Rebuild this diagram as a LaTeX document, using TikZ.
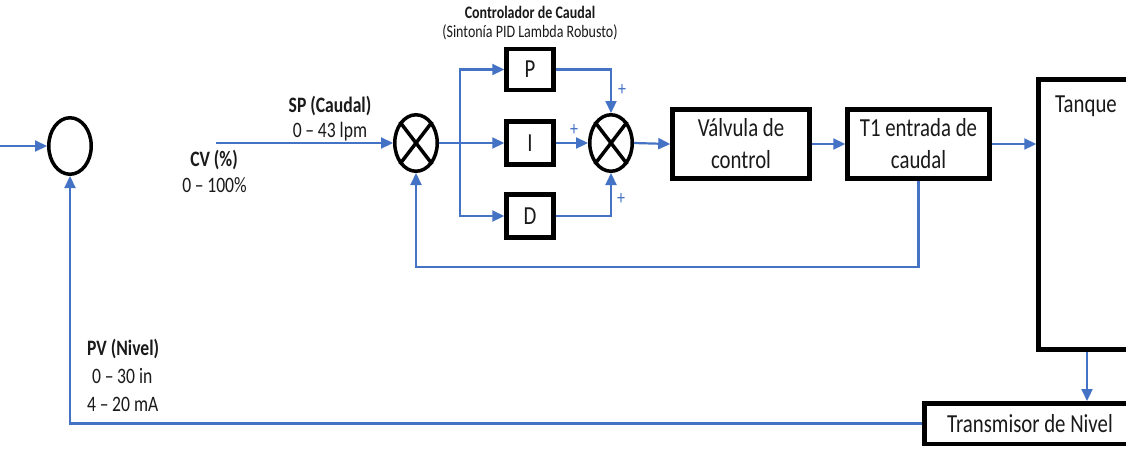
\documentclass[tikz,border=0pt]{standalone}
\usepackage{fontspec}
\setmainfont{Carlito}[FakeStretch=0.8]
\usetikzlibrary{arrows.meta,shapes.geometric,calc}
\definecolor{flow}{HTML}{4472C4}
\definecolor{ink}{HTML}{1A1A1A}
\tikzset{
  blk/.style={draw=black,line width=4.5pt,fill=white,inner sep=0pt,text=ink,
    font=\fontsize{26}{32}\selectfont,align=center},
  sumcirc/.style={draw=black,line width=3.5pt,ellipse,inner sep=0pt,
    minimum width=42.5pt,minimum height=56.5pt},
  flowline/.style={draw=flow,line width=2.2pt},
  arr/.style={flowline,-{Triangle[length=12pt,width=11pt]}},
  lbl/.style={text=ink,font=\fontsize{22}{28}\selectfont,inner sep=0pt},
  ttl/.style={text=ink,font=\fontsize{17.5}{21}\selectfont,inner sep=0pt},
  plus/.style={text=flow,font=\fontsize{20}{20}\selectfont,inner sep=0pt}
}
\begin{document}
\begin{tikzpicture}[x=1pt,y=-1pt]
\clip (0,0) rectangle (1126,448);
\fill[white] (0,0) rectangle (1126,448);

% summing junctions
\node[sumcirc] (s1) at (70,146) {};
\node[sumcirc] (s2) at (416,143) {};
\node[sumcirc] (s3) at (611,143) {};
\draw[line width=3.5pt] (s2.north west) -- (s2.south east) (s2.north east) -- (s2.south west);
\draw[line width=3.5pt] (s3.north west) -- (s3.south east) (s3.north east) -- (s3.south west);

% PID branches
\node[blk,minimum width=47pt,minimum height=41pt] (p) at (530,69.5) {P};
\node[blk,minimum width=47pt,minimum height=43pt] (i) at (530,143) {I};
\node[blk,minimum width=47pt,minimum height=43pt] (d) at (530,216) {D};

% process blocks
\node[blk,minimum width=137pt,minimum height=69pt] (valve) at (741,144) {Válvula de\\control};
\node[blk,minimum width=142pt,minimum height=69pt] (t1) at (918.5,144) {T1 entrada de\\caudal};
\node[draw=black,line width=4.5pt,fill=white,minimum width=203pt,minimum height=270pt,inner sep=0pt]
  (tank) at (1140,214.5) {};
\node[lbl,font=\fontsize{26}{32}\selectfont,anchor=base west] (tanklbl) at (1055,112) {Tanque};
\node[blk,minimum width=211pt,minimum height=40.5pt] (trans) at (1030,423.5) {Transmisor de Nivel};

% free ends
\coordinate (in) at (0,146);
\coordinate (cv) at (216,143);
\coordinate (br) at (460,143);
\coordinate (tx) at (1087,0);
\coordinate (fby) at (0,267);

% signal flow
\draw[arr] (in) -- (s1.west);
\draw[arr] (cv) -- (s2.west);
\draw[flowline] (s2.east) -- (br);
\draw[arr] (br) -- (i.west);
\draw[arr] (br) |- (p.west);
\draw[arr] (br) |- (d.west);
\draw[arr] (p.east) -| (s3.north);
\draw[arr] (i.east) -- (s3.west);
\draw[arr] (d.east) -| (s3.south);
\draw[arr] (s3.east) -- (valve.west);
\draw[arr] (valve.east) -- (t1.west);
\draw[arr] (t1.east) -- (tank.west |- t1.east);
\draw[arr] (t1.south) -- (t1.south |- fby) -| (s2.south);
\draw[arr] (tank.south -| tx) -- (trans.north -| tx);
\draw[arr] (trans.west) -| (s1.south);

% signs
\node[plus] (pp) at (622,90) {+};
\node[plus] (pi) at (574,130) {+};
\node[plus] (pd) at (621,199) {+};

% labels
\node[ttl,font=\bfseries\fontsize{17.5}{21}\selectfont,anchor=base] (ttl1) at (530,18) {Controlador de Caudal};
\node[ttl,anchor=base] (ttl2) at (530,37) {(Sintonía PID Lambda Robusto)};
\node[lbl,font=\bfseries\fontsize{22}{28}\selectfont,anchor=base] (sp) at (330,112) {SP (Caudal)};
\node[lbl,anchor=base] (spr) at (330,137) {0\,–\,43 lpm};
\node[lbl,font=\bfseries\fontsize{22}{28}\selectfont,anchor=base] (cvl) at (214,166) {CV (\%)};
\node[lbl,anchor=base] (cvr) at (214.5,192) {0\,–\,100\%};
\node[lbl,font=\bfseries\fontsize{22}{28}\selectfont,anchor=base west] (pv) at (87,355) {PV (Nivel)};
\node[lbl,anchor=base west] (pvr1) at (92,383) {0\,–\,30 in};
\node[lbl,anchor=base west] (pvr2) at (87,411) {4\,–\,20 mA};
\end{tikzpicture}
\end{document}
